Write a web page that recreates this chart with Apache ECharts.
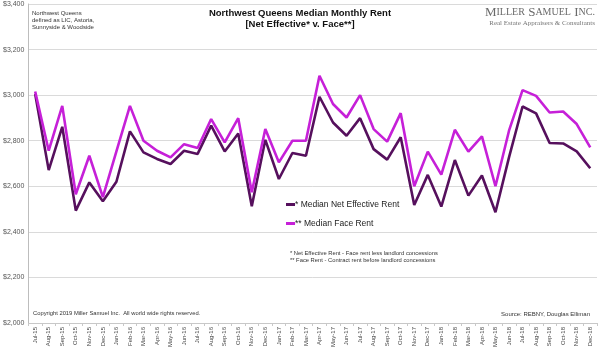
<!DOCTYPE html>
<html>
<head>
<meta charset="utf-8">
<script src="https://cdn.jsdelivr.net/npm/echarts@6/dist/echarts.min.js"></script>
<style>
  html, body { margin: 0; padding: 0; background: #fff; }
  #main { width: 600px; height: 350px; }
</style>
</head>
<body>
<div id="main"></div>
<script>
// months, Jul-15 .. Dec-18
var months = ['Jul-15','Aug-15','Sep-15','Oct-15','Nov-15','Dec-15',
  'Jan-16','Feb-16','Mar-16','Apr-16','May-16','Jun-16','Jul-16','Aug-16','Sep-16','Oct-16','Nov-16','Dec-16',
  'Jan-17','Feb-17','Mar-17','Apr-17','May-17','Jun-17','Jul-17','Aug-17','Sep-17','Oct-17','Nov-17','Dec-17',
  'Jan-18','Feb-18','Mar-18','Apr-18','May-18','Jun-18','Jul-18','Aug-18','Sep-18','Oct-18','Nov-18','Dec-18'];

// median net effective rent
var netEffective = [3005, 2671, 2861, 2493, 2617, 2534,
  2620, 2841, 2749, 2720, 2698, 2756, 2742, 2866, 2753, 2832, 2512, 2804,
  2632, 2746, 2734, 2993, 2880, 2822, 2899, 2763, 2717, 2815, 2518, 2650,
  2511, 2715, 2559, 2647, 2486, 2727, 2950, 2920, 2790, 2788, 2753, 2679];

// median face rent
var faceRent = [3016, 2756, 2953, 2565, 2734, 2552,
  2753, 2953, 2800, 2756, 2727, 2785, 2768, 2895, 2793, 2899, 2574, 2851,
  2705, 2800, 2800, 3085, 2961, 2902, 3000, 2851, 2796, 2921, 2600, 2752,
  2651, 2848, 2752, 2819, 2600, 2844, 3022, 2997, 2924, 2928, 2873, 2771];

var darkCol = '#56105d';
var lightCol = '#c620d8';
var sans = 'Liberation Sans, Arial, sans-serif';
var serif = 'Liberation Serif, Times New Roman, serif';

var chart = echarts.init(document.getElementById('main'));

var option = {
  backgroundColor: '#fff',
  animation: false,
  grid: { left: 25, right: 3, top: 4, bottom: 27 },
  legend: {
    orient: 'vertical',
    left: 281,
    top: 195,
    itemWidth: 9,
    itemHeight: 3,
    itemGap: 10,
    icon: 'rect',
    textStyle: { fontFamily: sans, fontSize: 8.5, color: '#222', padding: [0, 0, 0, -5] },
    data: ['* Median Net Effective Rent', '** Median Face Rent']
  },
  xAxis: {
    type: 'category',
    data: months,
    boundaryGap: true,
    axisLine: { lineStyle: { color: '#c8c8c8' } },
    axisTick: { show: true, interval: 0, length: 3, lineStyle: { color: '#c8c8c8' } },
    axisLabel: { interval: 0, rotate: 90, fontFamily: sans, fontSize: 6, color: '#444', margin: 4 }
  },
  yAxis: {
    type: 'value',
    min: 2000,
    max: 3400,
    interval: 200,
    axisLine: { show: true, lineStyle: { color: '#bdbdbd' } },
    axisTick: { show: false },
    splitLine: { lineStyle: { color: '#dadada' } },
    axisLabel: {
      fontFamily: sans, fontSize: 7, color: '#555', margin: 4,
      formatter: function (v) { return '$' + v.toLocaleString('en-US'); }
    }
  },
  series: [
    {
      name: '* Median Net Effective Rent',
      type: 'line',
      data: netEffective,
      showSymbol: false,
      lineStyle: { color: darkCol, width: 2.6 },
      itemStyle: { color: darkCol }
    },
    {
      name: '** Median Face Rent',
      type: 'line',
      data: faceRent,
      showSymbol: false,
      lineStyle: { color: lightCol, width: 2.6 },
      itemStyle: { color: lightCol }
    }
  ],
  graphic: [
    {
      type: 'text', left: 'center', top: 8,
      style: { text: 'Northwest Queens Median Monthly Rent', font: 'bold 9.5px ' + sans, fill: '#111' }
    },
    {
      type: 'text', left: 'center', top: 19,
      style: { text: '[Net Effective* v. Face**]', font: 'bold 9.5px ' + sans, fill: '#111' }
    },
    {
      type: 'text', left: 32, top: 10,
      style: {
        text: 'Northwest Queens\ndefined as LIC, Astoria,\nSunnyside & Woodside',
        font: '6px ' + sans, fill: '#333', lineHeight: 7
      }
    },
    {
      type: 'text', right: 5, top: 6,
      style: {
        text: '{b|M}{s|ILLER} {b|S}{s|AMUEL} {b|I}{s|NC.}',
        rich: {
          b: { fontFamily: serif, fontSize: 13, fill: '#6a6a6a' },
          s: { fontFamily: serif, fontSize: 10, fill: '#6a6a6a' }
        }
      }
    },
    {
      type: 'text', right: 5, top: 20,
      style: {
        text: 'Real Estate Appraisers & Consultants',
        font: '7px ' + serif, fill: '#777'
      }
    },
    {
      type: 'text', left: 290, top: 250,
      style: {
        text: '* Net Effective Rent - Face rent less landlord concessions\n** Face Rent - Contract rent before landlord concessions',
        font: '5.8px ' + sans, fill: '#333', lineHeight: 7
      }
    },
    {
      type: 'text', left: 33, top: 310,
      style: {
        text: 'Copyright 2019 Miller Samuel Inc.  All world wide rights reserved.',
        font: '5.8px ' + sans, fill: '#333'
      }
    },
    {
      type: 'text', right: 10, top: 311,
      style: {
        text: 'Source: REBNY, Douglas Elliman',
        font: '6px ' + sans, fill: '#333'
      }
    }
  ]
};

chart.setOption(option);
</script>
</body>
</html>
